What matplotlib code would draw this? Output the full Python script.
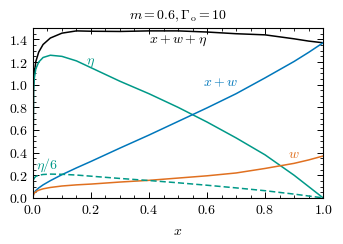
import numpy as np
from matplotlib import pyplot as plt
from matplotlib.ticker import MultipleLocator

plt.rcParams['font.family'] = 'serif'
plt.rcParams['font.serif'] = ['DejaVu Serif']
plt.rcParams['mathtext.fontset'] = 'cm'

# values
x = np.array([0.0, 0.002, 0.005, 0.01, 0.02, 0.035, 0.06, 0.1, 0.15, 0.2, 0.3,
              0.4, 0.5, 0.6, 0.7, 0.8, 0.9, 0.95, 1.0])
w = np.array([0.0, 0.03, 0.042, 0.055, 0.068, 0.08, 0.092, 0.105, 0.115, 0.122,
              0.14, 0.155, 0.175, 0.195, 0.22, 0.26, 0.305, 0.335, 0.37])
eta = np.array([0.0, 0.95, 1.06, 1.14, 1.2, 1.24, 1.26, 1.25, 1.21, 1.15, 1.03,
                0.92, 0.80, 0.67, 0.53, 0.38, 0.20, 0.10, 0.0])

col_blue = '#0077BB'
col_teal = '#009988'
col_orange = '#E07020'

fig = plt.figure(figsize=(3.43, 2.44), dpi=100)
ax = fig.add_axes([0.096, 0.189, 0.846, 0.696])

ax.plot(x, x + w + eta, color='black', lw=1.1)
ax.plot(x, eta, color=col_teal, lw=1.1)
ax.plot(x, x + w, color=col_blue, lw=1.1)
ax.plot(x, w, color=col_orange, lw=1.1)
ax.plot(x, eta / 6, color=col_teal, lw=1.1, ls=(0, (4, 2)))

fs = 10
ax.text(0.5, 1.385, r'$x + w + \eta$', color='black', fontsize=fs, ha='center', va='center')
ax.text(0.2, 1.2, r'$\eta$', color=col_teal, fontsize=fs, ha='center', va='center')
ax.text(0.645, 1.02, r'$x + w$', color=col_blue, fontsize=fs, ha='center', va='center')
ax.text(0.9, 0.385, r'$w$', color=col_orange, fontsize=fs, ha='center', va='center')
ax.text(0.05, 0.29, r'$\eta/6$', color=col_teal, fontsize=fs, ha='center', va='center')

ax.set_xlim(0, 1)
ax.set_ylim(0, 1.5)
ax.xaxis.set_major_locator(MultipleLocator(0.2))
ax.xaxis.set_minor_locator(MultipleLocator(0.05))
ax.yaxis.set_major_locator(MultipleLocator(0.2))
ax.yaxis.set_minor_locator(MultipleLocator(0.05))
ax.xaxis.set_major_formatter(lambda v, p: r'$%.1f$' % v)
ax.yaxis.set_major_formatter(lambda v, p: r'$%.1f$' % v)
ax.tick_params(which='both', direction='in', top=True, right=True, labelsize=fs)
ax.tick_params(which='major', length=4, width=0.7)
ax.tick_params(which='minor', length=2, width=0.6)
for s in ax.spines.values():
    s.set_linewidth(0.8)

ax.set_xlabel(r'$x$', fontsize=fs, labelpad=5)
ax.set_title(r'$m = 0.6, \Gamma_{\rm o} = 10$', fontsize=fs, pad=6)

fig.savefig('out.png', dpi=100)
